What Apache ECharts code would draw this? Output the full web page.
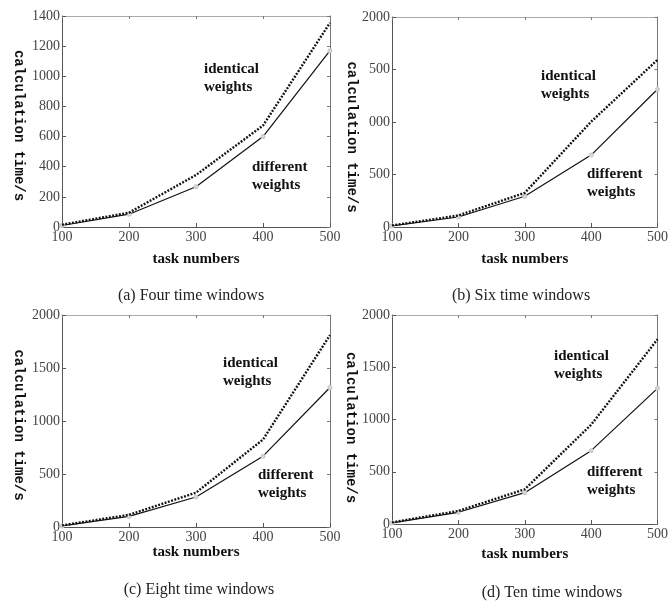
<!DOCTYPE html>
<html>
<head>
<meta charset="utf-8">
<script src="https://cdn.jsdelivr.net/npm/echarts@6/dist/echarts.min.js"></script>
<style>
html,body{margin:0;padding:0;background:#fff;}
#chart{width:671px;height:601px;}
</style>
</head>
<body>
<div id="chart"></div>
<script>
// ---- data ----
const xValues = [100, 200, 300, 400, 500];
const xTickLabels = ['100', '200', '300', '400', '500'];

const identicalA = [15, 95, 345, 673, 1355];
const differentA = [10, 85, 267, 600, 1170];
const identicalB = [15, 110, 325, 1003, 1592];
const differentB = [10, 95, 293, 685, 1312];
const identicalC = [15, 115, 324, 825, 1811];
const differentC = [10, 100, 283, 668, 1316];
const identicalD = [15, 125, 332, 950, 1767];
const differentD = [10, 112, 300, 702, 1298];

const yTickLabelsA = ['0', '200', '400', '600', '800', '1000', '1200', '1400'];
const yTickLabelsB = ['0', '500', '000', '500', '2000'];
const yTickLabelsC = ['0', '500', '1000', '1500', '2000'];
const yTickLabelsD = ['0', '500', '1000', '1500', '2000'];

const captions = ['(a) Four time windows', '(b) Six time windows', '(c) Eight time windows', '(d) Ten time windows'];
const yName = 'calculation time/s';
const xName = 'task numbers';
const labelIdentical = 'identical\nweights';
const labelDifferent = 'different\nweights';

// ---- layout ----
const panels = [
  { grid: {left: 62, top: 16, width: 268, height: 211}, ident: identicalA, diff: differentA, yTicks: yTickLabelsA, yMax: 1400, yInt: 200,
    yGap: 36, yPad: 8, xGap: 25, cap: [191, 296], idPos: [204, 60], dfPos: [252, 158] },
  { grid: {left: 392, top: 17, width: 268, height: 210}, ident: identicalB, diff: differentB, yTicks: yTickLabelsB, yMax: 2000, yInt: 500,
    yGap: 32, yPad: 30, xGap: 25, cap: [521, 296], idPos: [541, 67], dfPos: [587, 165] },
  { grid: {left: 62, top: 315, width: 268, height: 212}, ident: identicalC, diff: differentC, yTicks: yTickLabelsC, yMax: 2000, yInt: 500,
    yGap: 36, yPad: 8, xGap: 9, cap: [199, 590], idPos: [223, 354], dfPos: [258, 466] },
  { grid: {left: 392, top: 315, width: 267, height: 209}, ident: identicalD, diff: differentD, yTicks: yTickLabelsD, yMax: 2000, yInt: 500,
    yGap: 34, yPad: 16, xGap: 23, cap: [552, 593], idPos: [554, 347], dfPos: [587, 463] }
];

const serif = '"Liberation Serif", "DejaVu Serif", serif';
const mono = '"Liberation Mono", "DejaVu Sans Mono", monospace';

const option = {
  backgroundColor: '#fff',
  animation: false,
  grid: [], xAxis: [], yAxis: [], series: [], graphic: []
};

panels.forEach((p, i) => {
  option.grid.push(Object.assign({ show: false }, p.grid));
  // bottom x axis
  option.xAxis.push({
    type: 'value', gridIndex: i, min: 100, max: 500, interval: 100, position: 'bottom',
    name: xName, nameLocation: 'middle', nameGap: p.xGap,
    nameTextStyle: { fontFamily: serif, fontWeight: 'bold', fontSize: 15, color: '#111' },
    axisLine: { show: true, onZero: false, lineStyle: { color: '#555', width: 1 } },
    axisTick: { show: true, inside: true, length: 4, lineStyle: { color: '#555' } },
    axisLabel: { fontFamily: serif, fontSize: 14, color: '#444', margin: 3,
      formatter: v => xTickLabels[xValues.indexOf(v)] ?? '' },
    splitLine: { show: false }
  });
  // top x axis (ticks only)
  option.xAxis.push({
    type: 'value', gridIndex: i, min: 100, max: 500, interval: 100, position: 'top',
    axisLine: { show: true, onZero: false, lineStyle: { color: '#aaa', width: 1 } },
    axisTick: { show: true, inside: true, length: 3, lineStyle: { color: '#777' } },
    axisLabel: { show: false }, splitLine: { show: false }
  });
  // left y axis
  option.yAxis.push({
    type: 'value', gridIndex: i, min: 0, max: p.yMax, interval: p.yInt, position: 'left',
    name: yName, nameLocation: 'middle', nameGap: p.yGap, nameRotate: -90,
    nameTextStyle: { fontFamily: mono, fontWeight: 'bold', fontSize: 14, color: '#111', padding: [0, 0, 0, p.yPad] },
    axisLine: { show: true, onZero: false, lineStyle: { color: '#555', width: 1 } },
    axisTick: { show: true, inside: true, length: 4, lineStyle: { color: '#555' } },
    axisLabel: { fontFamily: serif, fontSize: 14, color: '#444', margin: 2,
      formatter: v => p.yTicks[Math.round(v / p.yInt)] ?? '' },
    splitLine: { show: false }
  });
  // right y axis (ticks only)
  option.yAxis.push({
    type: 'value', gridIndex: i, min: 0, max: p.yMax, interval: p.yInt, position: 'right',
    axisLine: { show: true, onZero: false, lineStyle: { color: '#777', width: 1 } },
    axisTick: { show: true, inside: true, length: 3, lineStyle: { color: '#777' } },
    axisLabel: { show: false }, splitLine: { show: false }
  });
  const xi = i * 2, yi = i * 2;
  option.series.push({
    type: 'line', xAxisIndex: xi, yAxisIndex: yi, name: 'identical',
    data: xValues.map((x, k) => [x, p.ident[k]]),
    showSymbol: false, symbol: 'none',
    lineStyle: { color: '#111', width: 2.4, type: [1.9, 1.5], cap: 'butt' }, z: 3
  });
  option.series.push({
    type: 'line', xAxisIndex: xi, yAxisIndex: yi, name: 'different',
    data: xValues.map((x, k) => [x, p.diff[k]]),
    symbol: 'emptyCircle', symbolSize: 3,
    itemStyle: { color: '#ccc', borderColor: '#c4c4c4', borderWidth: 1 },
    lineStyle: { color: '#111', width: 1.2 }, z: 2
  });
  option.graphic.push({
    type: 'text', x: p.cap[0], y: p.cap[1],
    style: { text: captions[i], font: '16px ' + serif, fill: '#222', align: 'center', verticalAlign: 'middle' }
  });
  option.graphic.push({
    type: 'text', x: p.idPos[0], y: p.idPos[1],
    style: { text: labelIdentical, font: 'bold 15px ' + serif, fill: '#111', align: 'left', verticalAlign: 'top', lineHeight: 18 }
  });
  option.graphic.push({
    type: 'text', x: p.dfPos[0], y: p.dfPos[1],
    style: { text: labelDifferent, font: 'bold 15px ' + serif, fill: '#111', align: 'left', verticalAlign: 'top', lineHeight: 18 }
  });
});

const chart = echarts.init(document.getElementById('chart'), null, { renderer: 'canvas' });
chart.setOption(option);
</script>
</body>
</html>
